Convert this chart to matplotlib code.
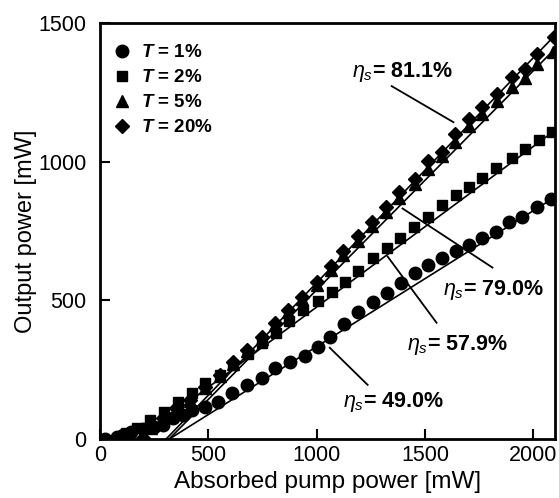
import matplotlib
matplotlib.use("Agg")
import matplotlib.pyplot as plt
import numpy as np

plt.rcParams['font.family'] = ['Liberation Sans', 'DejaVu Sans']
plt.rcParams['mathtext.fontset'] = 'custom'
plt.rcParams['mathtext.rm'] = 'Liberation Sans'
plt.rcParams['mathtext.it'] = 'Liberation Sans:italic'
plt.rcParams['mathtext.bf'] = 'Liberation Sans:bold'
plt.rcParams['mathtext.bfit'] = 'Liberation Sans:italic:bold'

# T = 1 %
x_t1 = [23, 78, 106, 145, 200, 250, 290, 336, 382, 424, 484, 544, 608, 677, 747, 806,
        876, 945, 1005, 1060, 1124, 1189, 1258, 1323, 1387, 1452, 1512, 1576, 1645,
        1705, 1765, 1829, 1889, 1949, 2018, 2083]
y_t1 = [0, 7, 14, 26, 36, 44, 51, 74, 87, 105, 116, 134, 166, 195, 220, 257,
        278, 300, 332, 369, 415, 459, 495, 528, 564, 600, 629, 654, 676,
        701, 726, 748, 781, 802, 835, 864]

# T = 2 %
x_t2 = [120, 171, 230, 295, 359, 424, 484, 553, 613, 682, 747, 811, 871, 935, 1005,
        1069, 1129, 1189, 1258, 1323, 1382, 1447, 1512, 1576, 1645, 1705, 1765,
        1829, 1899, 1959, 2028, 2088]
y_t2 = [20, 40, 69, 98, 134, 166, 202, 231, 267, 307, 347, 383, 426, 466, 499,
        531, 567, 607, 651, 687, 726, 766, 802, 842, 878, 907, 940,
        976, 1012, 1044, 1077, 1106]

# T = 5 %
x_t5 = [198, 235, 290, 350, 415, 484, 553, 613, 677, 747, 806, 866, 931, 1000, 1065,
        1120, 1189, 1253, 1318, 1378, 1452, 1512, 1576, 1636, 1705, 1765, 1834,
        1899, 1959, 2018, 2090]
y_t5 = [0, 38, 72, 108, 138, 183, 226, 272, 316, 362, 412, 458, 505, 556, 610,
        662, 715, 768, 818, 870, 918, 975, 1020, 1070, 1128, 1172, 1218,
        1268, 1300, 1352, 1395]

# T = 20 %
x_t20 = [198, 235, 290, 350, 415, 484, 553, 613, 677, 747, 806, 866, 931, 1000, 1065,
         1120, 1189, 1253, 1318, 1378, 1452, 1512, 1576, 1636, 1705, 1765, 1834,
         1899, 1959, 2018, 2097]
y_t20 = [5, 43, 76, 112, 141, 188, 231, 278, 322, 369, 419, 466, 513, 567, 622,
         676, 730, 784, 835, 889, 936, 1001, 1034, 1099, 1153, 1196, 1245,
         1305, 1334, 1388, 1450]

labels = ['1%', '2%', '5%', '20%']
markers = ['o', 's', '^', 'D']
sizes = [9, 7.5, 8.5, 7.5]

# slope efficiency fits
eta = [49.0, 57.9, 79.0, 81.1]
x_th = [320, 178, 319, 305]

# annotation text position and leader line (data units)
txt_pos = [(1120, 116), (1415, 322), (1581, 520), (1161, 1305)]
lead = [((1060, 329), (1235, 195)), ((1327, 658), (1553, 419)),
        ((1396, 831), (1811, 618)), ((1346, 1272), (1631, 1142))]

fig = plt.figure(figsize=(5.59, 4.98), dpi=100)
ax = fig.add_axes([0.179, 0.1185, 0.814, 0.8355])

xs = [x_t1, x_t2, x_t5, x_t20]
ys = [y_t1, y_t2, y_t5, y_t20]

for e, th in zip(eta, x_th):
    xx = np.array([th, 2095])
    ax.plot(xx, e / 100 * (xx - th), color='black', lw=1.2, zorder=2)

handles = []
for x, y, m, s, lab in zip(xs, ys, markers, sizes, labels):
    h, = ax.plot(x, y, linestyle='none', marker=m, ms=s, color='black', zorder=3,
                 label=r'$\bfit{T}$ = ' + lab)
    handles.append(h)

for (tx, ty), e in zip(txt_pos, eta):
    ax.text(tx, ty, r'$\eta_s$' + '= %.1f%%' % e, fontsize=15.5, fontweight='bold',
            ha='left', va='baseline')
for (p0, p1) in lead:
    ax.plot([p0[0], p1[0]], [p0[1], p1[1]], color='black', lw=1.3, zorder=2)

leg = ax.legend(handles=handles, loc='upper left', bbox_to_anchor=(-0.01, 0.99),
                frameon=False, handlelength=1.0, handletextpad=0.5,
                labelspacing=0.42, borderaxespad=0.5,
                prop={'weight': 'bold', 'size': 13.5})

ax.set_xlim(0, 2100)
ax.set_ylim(0, 1500)
ax.set_xticks([0, 500, 1000, 1500, 2000])
ax.set_yticks([0, 500, 1000, 1500])
ax.tick_params(direction='in', length=7, width=1.5, labelsize=15.5)
ax.tick_params(axis='x', pad=4)
ax.tick_params(axis='y', pad=10)
for sp in ax.spines.values():
    sp.set_linewidth(2)

ax.set_xlabel('Absorbed pump power [mW]', fontsize=17.5, labelpad=4)
ax.set_ylabel('Output power [mW]', fontsize=17, labelpad=1)

fig.savefig('out.png', dpi=100)
